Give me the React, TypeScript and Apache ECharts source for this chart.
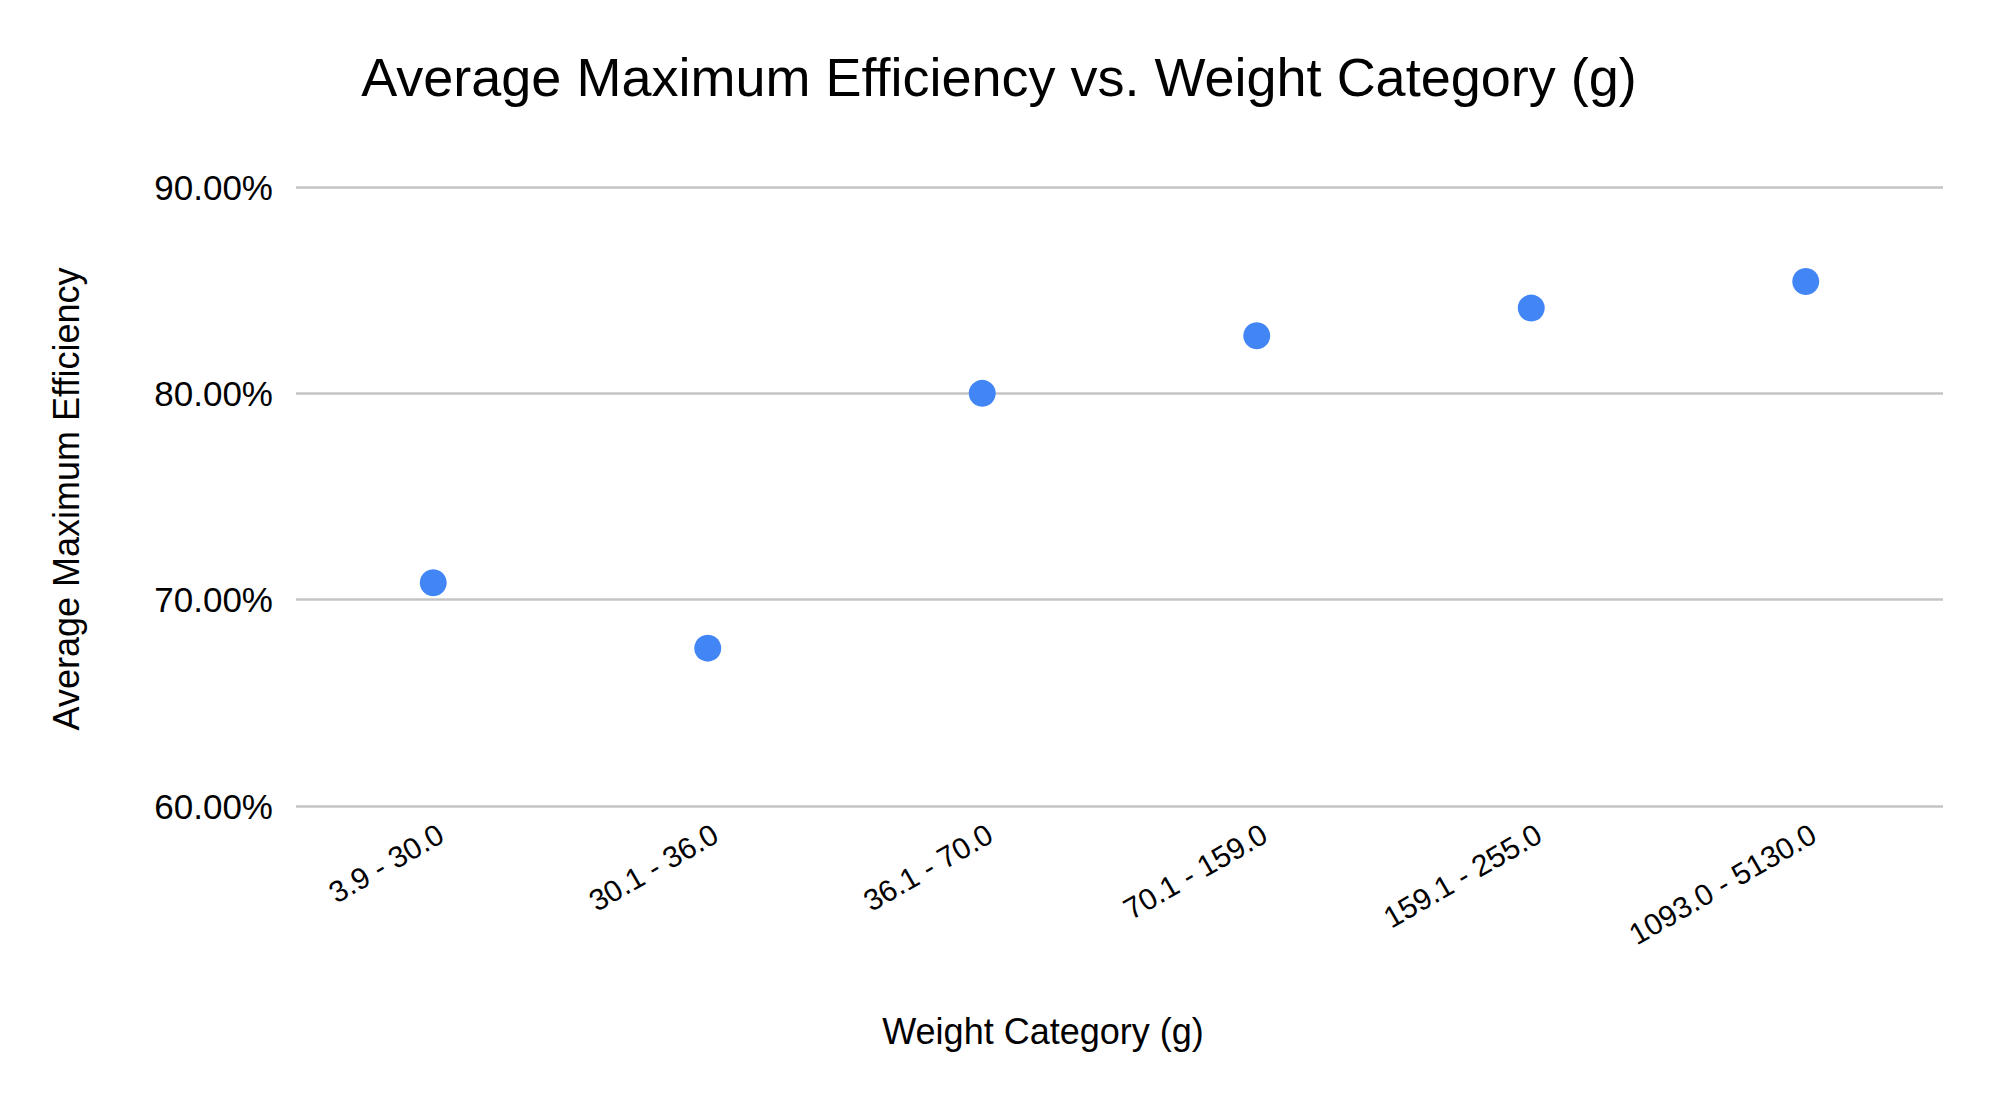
import React, { useEffect, useRef } from "react";
import * as echarts from "echarts";

const categories = [
  "3.9 - 30.0",
  "30.1 - 36.0",
  "36.1 - 70.0",
  "70.1 - 159.0",
  "159.1 - 255.0",
  "1093.0 - 5130.0",
];
const efficiency = [70.82, 67.65, 80.0, 82.79, 84.13, 85.42];
const yMin = 60;
const yMax = 90;
const yStep = 10;

const titleText = "Average Maximum Efficiency vs. Weight Category (g)";
const xName = "Weight Category (g)";
const yName = "Average Maximum Efficiency";

const FONT = "'Liberation Sans', Arial, Helvetica, sans-serif";

export default function App() {
  const ref = useRef<HTMLDivElement>(null);
  useEffect(() => {
    if (!ref.current) return;
    const chart = echarts.init(ref.current, undefined, { renderer: "svg" });
    chart.setOption({
      animation: false,
      backgroundColor: "#ffffff",
      textStyle: { fontFamily: FONT },
      title: {
        text: titleText,
        left: "center",
        top: 50,
        padding: 0,
        textStyle: { fontFamily: FONT, fontSize: 54, fontWeight: "normal", color: "#000" },
      },
      grid: { left: 296, right: 55, top: 187, bottom: 300, containLabel: false },
      xAxis: {
        type: "category",
        data: categories,
        boundaryGap: true,
        axisLine: { show: false },
        axisTick: { show: false },
        splitLine: { show: false },
        axisLabel: {
          rotate: 30,
          fontSize: 30,
          margin: 30,
          color: "#000",
          fontFamily: FONT,
          interval: 0,
          padding: [0, -9, 0, 0],
        },
      },
      yAxis: {
        type: "value",
        min: yMin,
        max: yMax,
        interval: yStep,
        axisLine: { show: false },
        axisTick: { show: false },
        splitLine: { show: true, lineStyle: { color: "#c4c4c4", width: 2.5 } },
        axisLabel: {
          fontSize: 35,
          margin: 23,
          color: "#000",
          fontFamily: FONT,
          formatter: (v: number) => v.toFixed(2) + "%",
        },
      },
      series: [
        {
          type: "scatter",
          data: efficiency,
          symbol: "circle",
          symbolSize: 27,
          itemStyle: { color: "#4285F4", opacity: 1 },
        },
      ],
      graphic: [
        {
          type: "text",
          x: 1043,
          y: 1031,
          style: {
            text: xName,
            fontSize: 36,
            fontFamily: FONT,
            fill: "#000",
            textAlign: "center",
            textVerticalAlign: "middle",
          },
        },
        {
          type: "text",
          x: 66,
          y: 499,
          rotation: Math.PI / 2,
          style: {
            text: yName,
            fontSize: 36,
            fontFamily: FONT,
            fill: "#000",
            textAlign: "center",
            textVerticalAlign: "middle",
          },
        },
      ],
    });
    return () => chart.dispose();
  }, []);
  return (
    <div
      ref={ref}
      style={{ position: "fixed", left: 0, top: 0, width: 1998, height: 1106, background: "#fff" }}
    />
  );
}
